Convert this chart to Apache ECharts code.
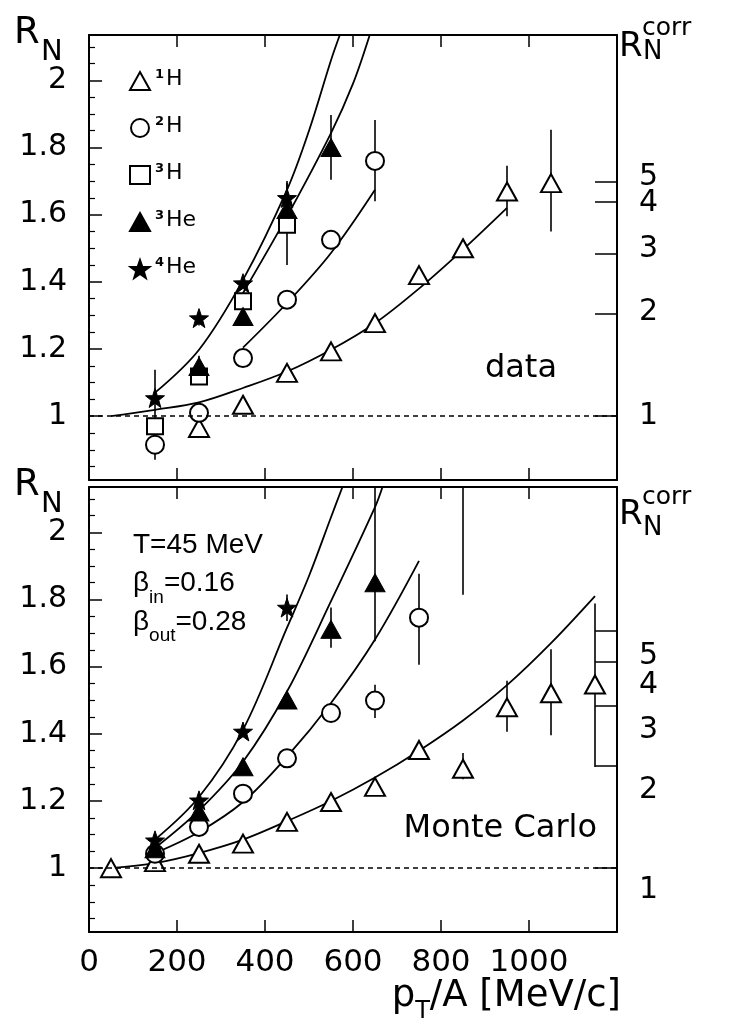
<!DOCTYPE html>
<html>
<head>
<meta charset="utf-8">
<title>R_N vs pT/A</title>
<script src="https://cdn.jsdelivr.net/npm/echarts@6.0.0/dist/echarts.min.js"></script>
<style>
  html, body { margin: 0; padding: 0; background: #fff; }
  #chart { width: 729px; height: 1027px; }
</style>
</head>
<body>
<div id="chart"></div>
<script type="text/javascript">
// axis ranges / ticks
var xMin = 0, xMax = 1200, yMin = 0.81, yMax = 2.135;
var yTickVals = [1, 1.2, 1.4, 1.6, 1.8, 2];
var yMinorVals = [0.85, 0.9, 0.95, 1.05, 1.1, 1.15, 1.25, 1.3, 1.35, 1.45, 1.5, 1.55,
                  1.65, 1.7, 1.75, 1.85, 1.9, 1.95, 2.05, 2.1];
var corrLabels = ['1', '2', '3', '4', '5'];
var corrTicksTop = [1.0, 1.304, 1.483, 1.639, 1.699];
var corrLabelPosTop = [1.0, 1.311, 1.496, 1.635, 1.713];
var corrTicksMc = [1.0, 1.305, 1.484, 1.616, 1.706];
var corrLabelPosMc = [0.933, 1.232, 1.412, 1.546, 1.630];

// upper panel: data
var binsTopH1 = [250, 350, 450, 550, 650, 750, 850, 950, 1050];
var valsTopH1 = [0.965, 1.034, 1.129, 1.193, 1.277, 1.42, 1.50, 1.669, 1.694];
var binsTopH2 = [150, 250, 350, 450, 550, 650];
var valsTopH2 = [0.915, 1.01, 1.173, 1.347, 1.525, 1.76];
var binsTopH3 = [150, 250, 350, 450];
var valsTopH3 = [0.97, 1.118, 1.342, 1.57];
var binsTopHe3 = [250, 350, 450, 550];
var valsTopHe3 = [1.148, 1.297, 1.615, 1.80];
var binsTopHe4 = [150, 250, 350, 450];
var valsTopHe4 = [1.054, 1.292, 1.396, 1.65];
// error bars [x, low, high]
var errTop = [[950, 1.595, 1.746], [1050, 1.55, 1.853], [150, 0.87, 0.96], [650, 1.64, 1.882],
              [550, 1.51, 1.545], [150, 0.95, 1.0], [250, 1.10, 1.14], [450, 1.45, 1.695],
              [250, 1.12, 1.18], [550, 1.704, 1.897], [150, 1.0, 1.138], [250, 1.27, 1.31],
              [450, 1.60, 1.70]];
// fitted curves
var curveTopHe4 = [[150, 1.07], [250, 1.198], [350, 1.406], [450, 1.674], [500, 1.85], [550, 2.06], [570, 2.135]];
var curveTopHe3 = [[350, 1.367], [450, 1.595], [550, 1.843], [600, 1.99], [638, 2.135]];
var curveTopH2 = [[350, 1.204], [450, 1.337], [550, 1.486], [650, 1.674]];
var curveTopH1 = [[50, 1.0], [150, 1.019], [250, 1.041], [350, 1.084], [450, 1.133], [550, 1.198],
                  [650, 1.277], [750, 1.38], [850, 1.496], [950, 1.62]];

// lower panel: Monte Carlo
var binsMcH1 = [50, 150, 250, 350, 450, 550, 650, 750, 850, 950, 1050, 1150];
var valsMcH1 = [1.0, 1.018, 1.043, 1.073, 1.138, 1.197, 1.242, 1.352, 1.296, 1.479, 1.521, 1.547];
var binsMcH2 = [150, 250, 350, 450, 550, 650, 750];
var valsMcH2 = [1.043, 1.123, 1.222, 1.327, 1.462, 1.499, 1.746];
var binsMcHe3 = [150, 250, 350, 450, 550, 650];
var valsMcHe3 = [1.058, 1.167, 1.302, 1.501, 1.711, 1.85];
var binsMcHe4 = [150, 250, 350, 450];
var valsMcHe4 = [1.083, 1.202, 1.407, 1.776];
var errMc = [[850, 1.265, 1.343], [950, 1.406, 1.558], [1050, 1.396, 1.652], [1150, 1.301, 1.788],
             [650, 1.447, 1.546], [750, 1.606, 1.877], [550, 1.656, 1.776], [650, 1.676, 2.2],
             [450, 1.736, 1.815], [850, 1.814, 2.2]];
var curveMcHe4 = [[150, 1.085], [250, 1.212], [350, 1.412], [450, 1.716], [500, 1.87], [550, 2.045], [576, 2.135]];
var curveMcHe3 = [[150, 1.06], [250, 1.172], [350, 1.317], [450, 1.526], [550, 1.795], [650, 2.075], [667, 2.135]];
var curveMcH2 = [[150, 1.045], [250, 1.108], [350, 1.197], [450, 1.332], [550, 1.492], [650, 1.681], [750, 1.915]];
var curveMcH1 = [[50, 1.0], [150, 1.015], [250, 1.045], [350, 1.085], [450, 1.14], [550, 1.2], [650, 1.27],
                 [750, 1.35], [850, 1.44], [950, 1.545], [1050, 1.67], [1150, 1.81]];

var legendSup = { '1H': '1', '2H': '2', '3H': '3', '3He': '3', '4He': '4' };
var legendEl = { '1H': 'H', '2H': 'H', '3H': 'H', '3He': 'He', '4He': 'He' };

var FONT = '"DejaVu Sans", "Liberation Sans", sans-serif';
var FONT_N = '"Liberation Sans", Arial, Helvetica, sans-serif';
var starPath = 'path://M0,-10L2.35,-3.24L9.51,-3.09L3.8,1.24L5.88,8.09L0,4L-5.88,8.09L-3.8,1.24L-9.51,-3.09L-2.35,-3.24Z';

var chart = echarts.init(document.getElementById('chart'));

function zip(xs, ys) {
  return xs.map(function (x, i) { return [x, ys[i]]; });
}
function nearest(arr, v) {
  var best = 0;
  for (var i = 1; i < arr.length; i++) {
    if (Math.abs(arr[i] - v) < Math.abs(arr[best] - v)) best = i;
  }
  return best;
}
// every other entry, so neighbouring right-hand labels never sit on one axis
function pick(arr, odd) {
  return arr.filter(function (v, i) { return (i % 2 === 1) === odd; });
}

function xAxes(grid, bottomLabels) {
  var base = {
    type: 'value', gridIndex: grid, min: xMin, max: xMax, interval: 200,
    axisLine: { lineStyle: { color: '#000', width: 2 } },
    axisTick: { inside: true, length: 12, lineStyle: { color: '#000', width: 1.5 } },
    splitLine: { show: false }
  };
  return [
    Object.assign({}, base, {
      position: 'bottom',
      axisLabel: {
        show: bottomLabels, margin: 15, color: '#000', fontSize: 31, fontFamily: FONT,
        showMinLabel: true,
        formatter: function (v) { return v > 1000 ? '' : String(v); }
      }
    }),
    Object.assign({}, base, { position: 'top', axisLabel: { show: false } })
  ];
}

function corrLabelAxis(grid, corrPos, odd, withLine, corrTicks) {
  return {
    type: 'value', gridIndex: grid, position: 'right', min: yMin, max: yMax,
    axisLine: { show: withLine, lineStyle: { color: '#000', width: 2 } },
    axisTick: withLine
      ? { inside: true, length: 22, customValues: corrTicks, lineStyle: { color: '#000', width: 1.5 } }
      : { show: false },
    axisLabel: {
      customValues: pick(corrPos, odd), margin: 22, color: '#000', fontSize: 30, fontFamily: FONT,
      showMinLabel: true, showMaxLabel: true, hideOverlap: false,
      formatter: function (v) { return corrLabels[nearest(corrPos, v)]; }
    },
    splitLine: { show: false }
  };
}

function yAxes(grid, corrTicks, corrPos) {
  return [
    {
      type: 'value', gridIndex: grid, position: 'left', min: yMin, max: yMax,
      axisLine: { show: true, lineStyle: { color: '#000', width: 2 } },
      axisTick: { inside: true, length: 13, customValues: yTickVals, lineStyle: { color: '#000', width: 1.5 } },
      axisLabel: {
        customValues: yTickVals, margin: 22, color: '#000', fontSize: 30, fontFamily: FONT,
        showMinLabel: true, showMaxLabel: true, hideOverlap: false,
        formatter: function (v) { return String(v); }
      },
      splitLine: { show: false }
    },
    {
      type: 'value', gridIndex: grid, position: 'left', min: yMin, max: yMax,
      axisLine: { show: false },
      axisTick: { inside: true, length: 6, customValues: yMinorVals, lineStyle: { color: '#000', width: 1.2 } },
      axisLabel: { show: false },
      splitLine: { show: false }
    },
    corrLabelAxis(grid, corrPos, false, true, corrTicks),
    corrLabelAxis(grid, corrPos, true, false)
  ];
}

function errSeries(data, xi, yi) {
  return {
    type: 'custom', xAxisIndex: xi, yAxisIndex: yi, z: 2, silent: true,
    data: data,
    renderItem: function (params, api) {
      var x = api.value(0);
      var a = api.coord([x, Math.max(api.value(1), yMin)]);
      var b = api.coord([x, Math.min(api.value(2), yMax)]);
      return {
        type: 'line',
        shape: { x1: a[0], y1: a[1], x2: b[0], y2: b[1] },
        style: { stroke: '#000', lineWidth: 1.6 }
      };
    }
  };
}

function curve(data, xi, yi, withOne) {
  var s = {
    type: 'line', xAxisIndex: xi, yAxisIndex: yi, z: 3, silent: true,
    data: data, smooth: 0.35, showSymbol: false, symbol: 'none',
    lineStyle: { color: '#000', width: 1.8 }
  };
  if (withOne) {
    s.markLine = {
      silent: true, symbol: 'none', label: { show: false },
      lineStyle: { color: '#000', width: 1.5, type: [5, 4] },
      data: [{ yAxis: 1 }]
    };
  }
  return s;
}

var openStyle = { color: '#fff', borderColor: '#000', borderWidth: 2, opacity: 1 };
var fillStyle = { color: '#000', borderColor: '#000', borderWidth: 1, opacity: 1 };

function points(name, xs, ys, xi, yi, sym, size, style) {
  return {
    name: name, type: 'scatter', xAxisIndex: xi, yAxisIndex: yi, z: 4,
    data: zip(xs, ys), symbol: sym, symbolSize: size, itemStyle: style
  };
}

var ctx = document.createElement('canvas').getContext('2d');
function tw(t, size, fam) { ctx.font = size + 'px ' + (fam || FONT); return ctx.measureText(t).width; }
function txt(t, x, y, size, fam, align) {
  return {
    type: 'text', x: x, y: y, silent: true,
    style: { text: t, font: size + 'px ' + fam, fill: '#000', textAlign: align || 'left', textVerticalAlign: 'middle' }
  };
}

// x title: p_T/A [MeV/c], right end at the frame
var titleRight = 621;
var tailX = titleRight - tw('/A [MeV/c]', 37);
var subTX = tailX - tw('T', 24);
var pX = subTX - tw('p', 37);

// beta lines
var b1 = 133, bIn = b1 + tw('\u03b2', 28, FONT_N), bIn2 = bIn + tw('in', 19, FONT_N);
var bOut = bIn, bOut2 = bOut + tw('out', 19, FONT_N);

var graphics = [
  // left axis names
  txt('R', 14, 33.5, 37, FONT), txt('N', 41, 52.5, 29, FONT),
  txt('R', 14, 485.5, 37, FONT), txt('N', 41, 504.5, 29, FONT),
  // right axis names
  txt('R', 619, 47.5, 34, FONT), txt('corr', 642, 28, 25, FONT), txt('N', 643, 52.5, 26, FONT),
  txt('R', 619, 515, 34, FONT), txt('corr', 642, 497, 25, FONT), txt('N', 643, 528.5, 26, FONT),
  // panel texts
  txt('data', 557, 369, 32, FONT, 'right'),
  txt('Monte Carlo', 597, 829, 32, FONT, 'right'),
  txt('T=45 MeV', 133, 545, 28, FONT_N),
  txt('\u03b2', b1, 583, 28, FONT_N), txt('in', bIn, 598, 19, FONT_N), txt('=0.16', bIn2, 583, 28, FONT_N),
  txt('\u03b2', b1, 622, 28, FONT_N), txt('out', bOut, 636, 19, FONT_N), txt('=0.28', bOut2, 622, 28, FONT_N),
  // x title
  txt('p', pX, 996, 37, FONT), txt('T', subTX, 1012, 24, FONT), txt('/A [MeV/c]', tailX, 996, 37, FONT)
];

var option = {
  backgroundColor: '#fff',
  animation: false,
  textStyle: { fontFamily: FONT },
  grid: [
    { left: 89, top: 35, width: 528, height: 445 },
    { left: 89, top: 487, width: 528, height: 445 }
  ],
  xAxis: xAxes(0, false).concat(xAxes(1, true)),
  yAxis: yAxes(0, corrTicksTop, corrLabelPosTop).concat(yAxes(1, corrTicksMc, corrLabelPosMc)),
  legend: {
    data: ['1H', '2H', '3H', '3He', '4He'],
    orient: 'vertical', left: 124, top: 63,
    itemWidth: 20, itemHeight: 18, itemGap: 24,
    selectedMode: false,
    formatter: function (n) { return '{s|' + legendSup[n] + '}{t|' + legendEl[n] + '}'; },
    textStyle: {
      color: '#000', fontFamily: FONT,
      rich: {
        s: { fontSize: 13, fontWeight: 'bold', lineHeight: 14, verticalAlign: 'top', padding: [0, 2, 0, 0], fontFamily: FONT },
        t: { fontSize: 22, lineHeight: 26, verticalAlign: 'top', fontFamily: FONT }
      }
    }
  },
  graphic: graphics,
  series: [
    // upper panel (axes: x 0, y 0)
    errSeries(errTop, 0, 0),
    curve(curveTopH1, 0, 0, true),
    curve(curveTopH2, 0, 0),
    curve(curveTopHe3, 0, 0),
    curve(curveTopHe4, 0, 0),
    points('1H', binsTopH1, valsTopH1, 0, 0, 'triangle', [20, 18], openStyle),
    points('2H', binsTopH2, valsTopH2, 0, 0, 'circle', 18, openStyle),
    points('3H', binsTopH3, valsTopH3, 0, 0, 'rect', 16, openStyle),
    points('3He', binsTopHe3, valsTopHe3, 0, 0, 'triangle', [20, 18], fillStyle),
    points('4He', binsTopHe4, valsTopHe4, 0, 0, starPath, 19, fillStyle),
    // lower panel (axes: x 2, y 4)
    errSeries(errMc, 2, 4),
    curve(curveMcH1, 2, 4, true),
    curve(curveMcH2, 2, 4),
    curve(curveMcHe3, 2, 4),
    curve(curveMcHe4, 2, 4),
    points('1H', binsMcH1, valsMcH1, 2, 4, 'triangle', [20, 18], openStyle),
    points('2H', binsMcH2, valsMcH2, 2, 4, 'circle', 18, openStyle),
    points('3He', binsMcHe3, valsMcHe3, 2, 4, 'triangle', [20, 18], fillStyle),
    points('4He', binsMcHe4, valsMcHe4, 2, 4, starPath, 19, fillStyle)
  ]
};

chart.setOption(option);
</script>
</body>
</html>
